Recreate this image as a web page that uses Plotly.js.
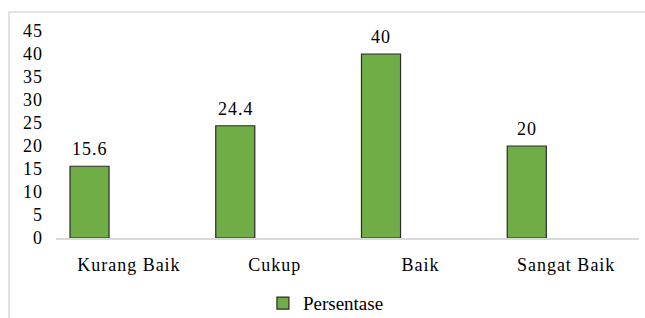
<!DOCTYPE html>
<html>
<head>
<meta charset="utf-8">
<script src="https://cdn.plot.ly/plotly-3.0.1.min.js"></script>
<style>
html, body { margin: 0; padding: 0; background: #fff; }
#chart { width: 645px; height: 318px; }
.main-svg .xtick text, .main-svg .ytick text, .main-svg .annotation-text { letter-spacing: 1px; }
</style>
</head>
<body>
<div id="chart"></div>
<script>
const categories = ["Kurang Baik", "Cukup", "Baik", "Sangat Baik"];
const values = [15.6, 24.4, 40, 20];
const valueLabels = ["15.6", "24.4", "40", "20"];
const seriesName = "Persentase";
const yTicks = [0, 5, 10, 15, 20, 25, 30, 35, 40, 45];

const font = "Liberation Serif";

const trace = {
  type: "bar",
  x: categories,
  y: values,
  name: seriesName,
  width: 0.268,
  offset: -0.404,
  marker: { color: "#70ad47", line: { color: "#2b2b2b", width: 1.2 } },
  hoverinfo: "none",
  showlegend: true
};

const annotations = categories.map((c, i) => ({
  x: c,
  y: values[i],
  xref: "x", yref: "y",
  text: valueLabels[i],
  showarrow: false,
  xanchor: "center",
  yanchor: "bottom",
  xshift: -39,
  yshift: 5,
  font: { family: font, size: 18, color: "#000" }
}));

const layout = {
  width: 645,
  height: 318,
  margin: { l: 56, r: 6, t: 31, b: 80, autoexpand: false },
  paper_bgcolor: "#fff",
  plot_bgcolor: "#fff",
  font: { family: font, size: 18, color: "#000" },
  showlegend: true,
  legend: {
    orientation: "h",
    x: 0.463, xanchor: "center",
    y: -0.315, yanchor: "middle",
    font: { family: font, size: 19, color: "#000" }
  },
  xaxis: {
    type: "category",
    automargin: false,
    showline: true,
    linecolor: "#d9d9d9",
    linewidth: 1.5,
    showgrid: false,
    ticks: "",
    ticklabelstandoff: 10,
    tickfont: { family: font, size: 18, color: "#000" },
    fixedrange: true
  },
  yaxis: {
    range: [0, 45],
    automargin: false,
    tickvals: yTicks,
    showgrid: false,
    zeroline: false,
    showline: false,
    ticks: "",
    ticklabelstandoff: 12,
    tickfont: { family: font, size: 18, color: "#000" },
    fixedrange: true
  },
  annotations: annotations,
  shapes: [{
    type: "rect",
    xref: "paper", yref: "paper",
    x0: -0.0806, x1: 1.03,
    y0: -0.6, y1: 1.0918,
    line: { color: "#d9d9d9", width: 1.5 },
    fillcolor: "rgba(0,0,0,0)",
    layer: "below"
  }]
};

Plotly.newPlot("chart", [trace], layout, { displayModeBar: false, staticPlot: true });
</script>
</body>
</html>
